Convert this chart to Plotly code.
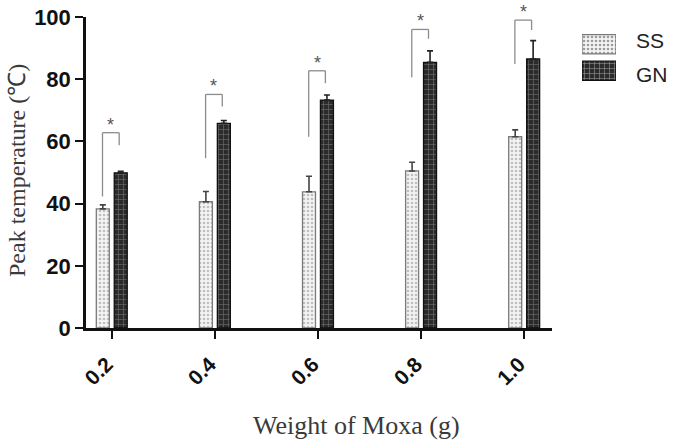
import plotly.graph_objects as go

categories = ["0.2", "0.4", "0.6", "0.8", "1.0"]
ss_values = [38.3, 40.6, 43.8, 50.5, 61.5]
ss_err = [1.3, 3.3, 5.0, 2.8, 2.2]
gn_values = [49.9, 65.8, 73.3, 85.4, 86.5]
gn_err = [0.5, 0.9, 1.6, 3.7, 5.9]
bracket_top = [62.8, 75.1, 82.7, 96.0, 99.0]
bracket_left_bottom = [42.3, 54.6, 61.5, 80.6, 84.9]
bracket_right_bottom = [58.8, 71.2, 78.7, 93.0, 95.8]
legend_names = ["GN", "SS"]

# layout geometry (pixels)
W, H = 678, 441
L, R, T, B = 86, 10, 17, 113
PW = W - L - R
PH = H - T - B


def px_x(p):
    return (p - L) / PW


def px_y(p):
    return 1 - (p - T) / PH


BW = 0.126
ss_pattern = dict(shape=".", bgcolor="#f4f4f4", fgcolor="#8a8a8a", size=4, solidity=0.35)
gn_pattern = dict(shape="+", bgcolor="#2b2b2b", fgcolor="#b5b5b5", size=5, solidity=0.22)

fig = go.Figure()
fig.add_trace(go.Bar(
    x=categories, y=ss_values, name="SS", width=BW, offset=-0.15,
    marker=dict(color="#f4f4f4", pattern=ss_pattern, line=dict(color="#7a7a7a", width=1.3)),
    error_y=dict(type="data", symmetric=False, array=ss_err, arrayminus=[0]*5,
                 color="#444444", thickness=1.6, width=3),
    showlegend=False,
))
fig.add_trace(go.Bar(
    x=categories, y=gn_values, name="GN", width=BW, offset=0.024,
    marker=dict(color="#2b2b2b", pattern=gn_pattern, line=dict(color="#111111", width=1.3)),
    error_y=dict(type="data", symmetric=False, array=gn_err, arrayminus=[0]*5,
                 color="#222222", thickness=1.6, width=3),
    showlegend=False,
))

# legend swatches
fig.add_trace(go.Bar(
    y=legend_names, x=[1, 1], orientation="h", width=0.72,
    xaxis="x2", yaxis="y2", showlegend=False, hoverinfo="skip",
    marker=dict(
        color=["#2b2b2b", "#f4f4f4"],
        pattern=dict(shape=["+", "."], bgcolor=["#2b2b2b", "#f4f4f4"],
                     fgcolor=["#b5b5b5", "#8a8a8a"], size=[5, 4], solidity=[0.22, 0.35]),
        line=dict(color=["#111111", "#7a7a7a"], width=1.3),
    ),
))

shapes = []
annotations = []
for i in range(len(categories)):
    xl = i - 0.09
    xr = i + 0.072
    line = dict(color="#8c8c8c", width=1.3)
    shapes.append(dict(type="line", xref="x", yref="y", x0=xl, x1=xl,
                       y0=bracket_left_bottom[i], y1=bracket_top[i], line=line))
    shapes.append(dict(type="line", xref="x", yref="y", x0=xl, x1=xr,
                       y0=bracket_top[i], y1=bracket_top[i], line=line))
    shapes.append(dict(type="line", xref="x", yref="y", x0=xr, x1=xr,
                       y0=bracket_right_bottom[i], y1=bracket_top[i], line=line))
    annotations.append(dict(x=(xl + xr) / 2, y=bracket_top[i], xref="x", yref="y",
                            text="*", showarrow=False, yanchor="bottom", yshift=-4,
                            font=dict(family="Liberation Sans, Arial", size=18, color="#555555")))

for name, yc in zip(["SS", "GN"], [40.5, 74.5]):
    annotations.append(dict(x=px_x(634), y=px_y(yc), xref="paper", yref="paper", text=name,
                            showarrow=False, xanchor="left", yanchor="middle",
                            font=dict(family="Liberation Sans, Arial", size=21, color="#222222")))

# axis titles
annotations.append(dict(x=px_x(356), y=px_y(425), xref="paper", yref="paper",
                        text="Weight of Moxa (g)", showarrow=False,
                        xanchor="center", yanchor="middle",
                        font=dict(family="Liberation Serif, Times New Roman", size=26, color="#3a3a3a")))
annotations.append(dict(x=px_x(17), y=px_y(171), xref="paper", yref="paper",
                        text="Peak temperature (℃)", showarrow=False, textangle=-90,
                        xanchor="center", yanchor="middle",
                        font=dict(family="Liberation Serif, Times New Roman", size=24, color="#3a3a3a")))

fig.update_layout(
    width=W, height=H,
    margin=dict(l=L, r=R, t=T, b=B, autoexpand=False),
    paper_bgcolor="white", plot_bgcolor="white",
    barmode="overlay",
    showlegend=False,
    shapes=shapes,
    annotations=annotations,
    xaxis=dict(
        domain=[0, px_x(552)], automargin=False,
        type="category", categoryorder="array", categoryarray=categories,
        range=[-0.25, 4.27], showgrid=False, zeroline=False,
        showline=True, linecolor="#111111", linewidth=2.5,
        ticks="outside", ticklen=8, tickwidth=2.2, tickcolor="#111111",
        tickangle=-45, ticklabelshift=-5, ticklabelstandoff=5,
        tickfont=dict(family="Liberation Sans, Arial", size=21, color="#111111", weight="bold"),
    ),
    yaxis=dict(
        automargin=False,
        range=[0, 100], tickvals=[0, 20, 40, 60, 80, 100], showgrid=False, zeroline=False,
        showline=True, linecolor="#111111", linewidth=2.5,
        ticks="outside", ticklen=8, tickwidth=2.2, tickcolor="#111111",
        tickfont=dict(family="Liberation Sans, Arial", size=22, color="#111111", weight="bold"),
    ),
    xaxis2=dict(domain=[px_x(582), px_x(616)], anchor="y2", range=[0, 1], visible=False, fixedrange=True),
    yaxis2=dict(domain=[px_y(84), px_y(31)], anchor="x2", range=[-0.5, 1.5],
                visible=False, fixedrange=True, type="category"),
)

fig.write_html("out.html")
